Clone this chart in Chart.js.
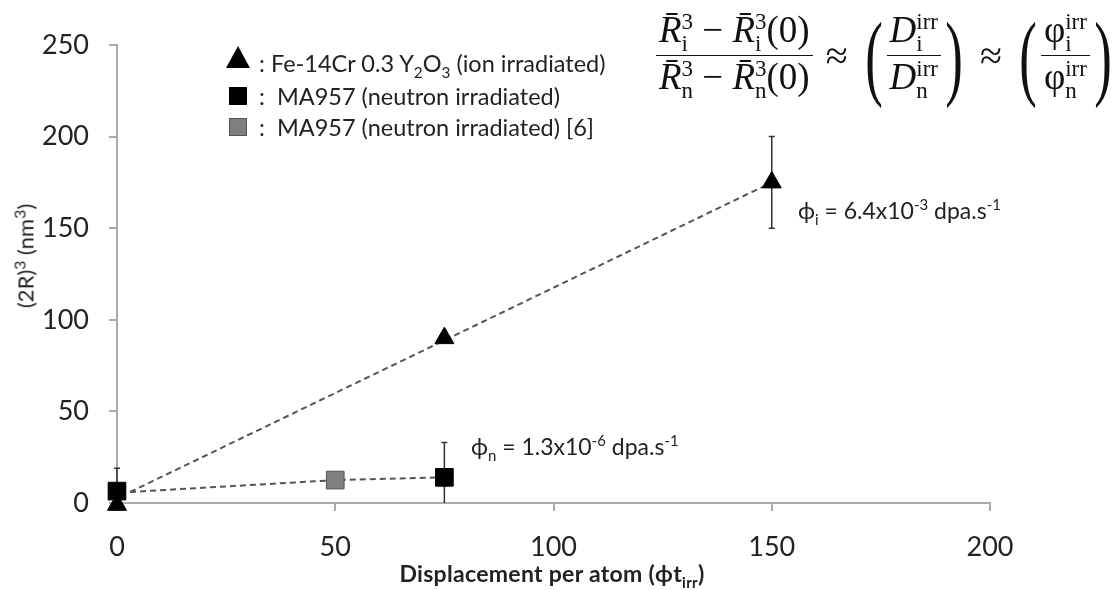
<!DOCTYPE html>
<html>
<head>
<meta charset="utf-8">
<script src="https://cdn.jsdelivr.net/npm/chart.js@4/dist/chart.umd.min.js"></script>
<style>
body { margin: 0; background: #fff; }
#wrap { position: relative; width: 1120px; height: 590px; }
.txt { position: absolute; font-family: Lato, "Open Sans", sans-serif; color: #222; white-space: nowrap; }
.legend { font-size: 23.5px; }
.note { font-size: 23px; }
sub, sup { font-size: 0.65em; line-height: 0; }
#ytitle { font-size: 22px; transform: translate(-50%, -50%) rotate(-90deg); }
#ytitle sup { font-size: 0.72em; }
#xtitle { font-size: 23px; font-weight: bold; letter-spacing: 0.3px; transform: translate(-50%, -50%); }
#formula { position: absolute; left: 656px; top: 0px; font-family: "Liberation Serif", "DejaVu Serif", serif; font-size: 37px; color: #111; display: flex; align-items: center; white-space: nowrap; }
.frac { display: inline-flex; flex-direction: column; align-items: center; }
.frac > span { padding: 0 3px; line-height: 1.15; }
.frac > span:first-child { border-bottom: 1.5px solid #111; }
.ss { display: inline-block; font-size: 0.62em; line-height: 0.95; vertical-align: -0.4em; text-align: left; font-style: normal; }
.ss > span { display: block; }
.it { font-style: italic; }
.op { margin: 0 13px; font-size: 40px; }
.par { font-size: 96px; font-weight: 100; display: inline-block; transform: scale(0.55, 1.0); margin: 0 -3px; }
</style>
</head>
<body>
<div id="wrap">
  <canvas id="chart" width="1120" height="590"></canvas>

  <div class="txt legend" style="left:259px; top:49px;">: Fe-14Cr 0.3 Y<sub>2</sub>O<sub>3</sub> (ion irradiated)</div>
  <div class="txt legend" style="left:259px; top:82px;">:&nbsp; MA957 (neutron irradiated)</div>
  <div class="txt legend" style="left:259px; top:113px;">:&nbsp; MA957 (neutron irradiated) [6]</div>

  <div class="txt note" style="left:798px; top:196px;">ϕ<sub>i</sub> = 6.4x10<sup>-3</sup> dpa.s<sup>-1</sup></div>
  <div class="txt note" style="left:471px; top:432px;">ϕ<sub>n</sub> = 1.3x10<sup>-6</sup> dpa.s<sup>-1</sup></div>

  <div class="txt" id="ytitle" style="left:25px; top:256px;">(2R)<sup>3</sup> (nm<sup>3</sup>)</div>
  <div class="txt" id="xtitle" style="left:552px; top:573px;">Displacement per atom (ϕt<sub>irr</sub>)</div>

  <div id="formula">
    <span class="frac">
      <span><span class="it">R̄</span><span class="ss"><span>3</span><span>i</span></span> − <span class="it">R̄</span><span class="ss"><span>3</span><span>i</span></span>(0)</span>
      <span><span class="it">R̄</span><span class="ss"><span>3</span><span>n</span></span> − <span class="it">R̄</span><span class="ss"><span>3</span><span>n</span></span>(0)</span>
    </span>
    <span class="op">≈</span>
    <span class="par">(</span>
    <span class="frac">
      <span><span class="it">D</span><span class="ss"><span>irr</span><span>i</span></span></span>
      <span><span class="it">D</span><span class="ss"><span>irr</span><span>n</span></span></span>
    </span>
    <span class="par">)</span>
    <span class="op">≈</span>
    <span class="par">(</span>
    <span class="frac">
      <span>φ<span class="ss"><span>irr</span><span>i</span></span></span>
      <span>φ<span class="ss"><span>irr</span><span>n</span></span></span>
    </span>
    <span class="par">)</span>
  </div>
</div>

<script>
// ion irradiated Fe-14Cr 0.3 Y2O3
const ionDpa = [0, 75, 150];
const ionSize = [-1, 90, 175];
const ionErr = [0, 0, 25];
const ionFitDpa = [3, 150];
const ionFitSize = [6, 175];

// MA957 neutron irradiated
const neutronDpa = [0, 75];
const neutronSize = [6.5, 14];
const neutronErr = [12.5, 19];

// MA957 neutron irradiated [6]
const refDpa = [50];
const refSize = [12.5];

const neutronFitDpa = [3, 50, 75];
const neutronFitSize = [6, 12.5, 14];

const xTicks = [0, 50, 100, 150, 200];
const yTicks = [0, 50, 100, 150, 200, 250];

const toPoints = (xs, ys) => xs.map((x, i) => ({ x: x, y: ys[i] }));

const errorBars = {
    id: "errorBars",
    beforeDatasetsDraw(chart) {
        const ctx = chart.ctx;
        const xs = chart.scales.x, ys = chart.scales.y;
        const area = chart.chartArea;
        const sets = [[ionDpa, ionSize, ionErr], [neutronDpa, neutronSize, neutronErr]];
        ctx.save();
        ctx.beginPath();
        ctx.rect(area.left - 20, area.top - 20, area.right - area.left + 40, area.bottom - area.top + 20);
        ctx.clip();
        ctx.strokeStyle = "#333";
        ctx.lineWidth = 1.5;
        sets.forEach(([dx, dy, de]) => {
            dx.forEach((v, i) => {
                if (!de[i]) return;
                const px = xs.getPixelForValue(v);
                const top = ys.getPixelForValue(dy[i] + de[i]);
                const bot = ys.getPixelForValue(dy[i] - de[i]);
                ctx.beginPath();
                ctx.moveTo(px, top); ctx.lineTo(px, bot);
                ctx.moveTo(px - 3, top); ctx.lineTo(px + 3, top);
                ctx.moveTo(px - 3, bot); ctx.lineTo(px + 3, bot);
                ctx.stroke();
            });
        });
        ctx.restore();
    },
    afterDraw(chart) {
        // legend symbols
        const ctx = chart.ctx;
        ctx.save();
        ctx.fillStyle = "#000";
        ctx.beginPath(); ctx.moveTo(238, 46); ctx.lineTo(250, 68); ctx.lineTo(226, 68); ctx.closePath(); ctx.fill();
        ctx.fillRect(229, 87, 18, 18);
        ctx.fillStyle = "#7f7f7f"; ctx.strokeStyle = "#555"; ctx.lineWidth = 1;
        ctx.fillRect(229, 118, 18, 18); ctx.strokeRect(229.5, 118.5, 17, 17);
        ctx.restore();
    }
};

const ctx = document.getElementById("chart").getContext("2d");
const chart = new Chart(ctx, {
    type: "scatter",
    data: {
        datasets: [{
            label: "ion fit",
            data: toPoints(ionFitDpa, ionFitSize),
            showLine: true,
            borderColor: "#555",
            borderWidth: 2,
            borderDash: [6, 4],
            pointRadius: 0,
            order: 10,
        }, {
            label: "neutron fit",
            data: toPoints(neutronFitDpa, neutronFitSize),
            showLine: true,
            borderColor: "#555",
            borderWidth: 2,
            borderDash: [6, 4],
            pointRadius: 0,
            order: 9,
        }, {
            label: "Fe-14Cr 0.3 Y2O3 (ion irradiated)",
            data: toPoints(ionDpa, ionSize),
            pointStyle: "triangle",
            pointRadius: 11,
            backgroundColor: "#000",
            borderColor: "#000",
            borderWidth: 1,
            clip: false,
            order: 1,
        }, {
            label: "MA957 (neutron irradiated)",
            data: toPoints(neutronDpa, neutronSize),
            pointStyle: "rect",
            pointRadius: 12.5,
            backgroundColor: "#000",
            borderColor: "#000",
            borderWidth: 1,
            clip: false,
            order: 2,
        }, {
            label: "MA957 (neutron irradiated) [6]",
            data: toPoints(refDpa, refSize),
            pointStyle: "rect",
            pointRadius: 12.5,
            backgroundColor: "#7f7f7f",
            borderColor: "#555",
            borderWidth: 1,
            clip: false,
            order: 3,
        }]
    },
    options: {
        responsive: false,
        animation: false,
        layout: {
            padding: { top: 45, right: 130, left: 0, bottom: 0 }
        },
        scales: {
            x: {
                type: "linear",
                min: 0,
                max: 200,
                afterBuildTicks: (s) => { s.ticks = xTicks.map(v => ({ value: v })); },
                afterFit: (s) => { s.height = 87; },
                grid: { drawOnChartArea: false, drawTicks: true, tickLength: 8, color: "#aaa", lineWidth: 2 },
                border: { color: "#aaa", width: 2 },
                ticks: { color: "#222", padding: 20, font: { family: "Lato", size: 27 } },
            },
            y: {
                type: "linear",
                min: 0,
                max: 250,
                afterBuildTicks: (s) => { s.ticks = yTicks.map(v => ({ value: v })); },
                afterFit: (s) => { s.width = 117; },
                grid: { drawOnChartArea: false, drawTicks: true, tickLength: 8, color: "#aaa", lineWidth: 2 },
                border: { color: "#aaa", width: 2 },
                ticks: { color: "#222", padding: 20, font: { family: "Lato", size: 27 } },
            }
        },
        plugins: {
            legend: { display: false },
            tooltip: { enabled: false },
        },
    },
    plugins: [errorBars],
});
</script>
</body>
</html>
